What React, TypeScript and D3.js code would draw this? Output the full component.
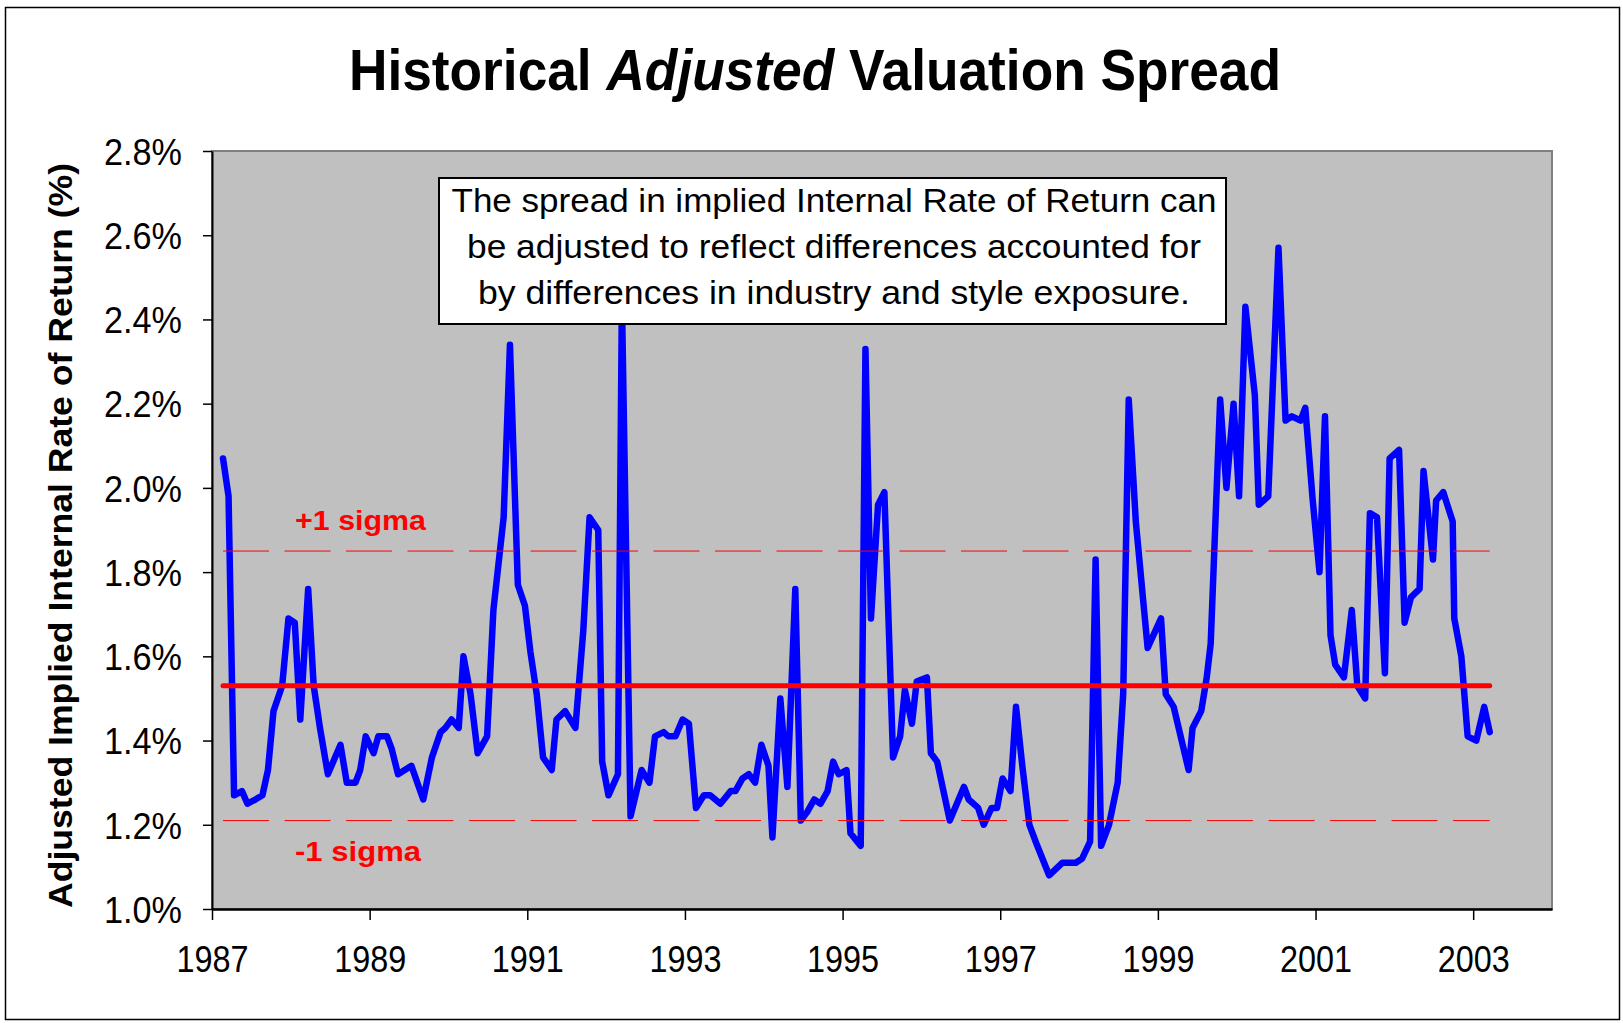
import React, { useEffect, useRef } from 'react';
import * as d3 from 'd3';

// monthly observations (decimal year) and adjusted IRR spread (%)
const years = [
  1987.14, 1987.21, 1987.28, 1987.38, 1987.45, 1987.55, 1987.64, 1987.71, 1987.78, 1987.89, 1987.97,
  1988.05, 1988.12, 1988.22, 1988.29, 1988.37, 1988.47, 1988.63, 1988.71, 1988.82, 1988.88, 1988.95,
  1989.05, 1989.11, 1989.22, 1989.28, 1989.36, 1989.53, 1989.68,
  1989.79, 1989.90, 1989.96,
  1990.04, 1990.13, 1990.19, 1990.28, 1990.37, 1990.49, 1990.57, 1990.70, 1990.78, 1990.88, 1990.97,
  1991.04, 1991.12, 1991.20, 1991.31, 1991.37, 1991.48, 1991.61, 1991.71, 1991.79, 1991.90, 1991.95,
  1992.03, 1992.15, 1992.20, 1992.31, 1992.45,
  1992.55, 1992.62, 1992.73, 1992.79, 1992.88, 1992.97,
  1993.05, 1993.14, 1993.24, 1993.32, 1993.45, 1993.58, 1993.64, 1993.73, 1993.81, 1993.89, 1993.97,
  1994.06, 1994.11, 1994.21, 1994.30, 1994.40, 1994.47, 1994.55, 1994.64, 1994.72, 1994.81, 1994.88, 1994.95,
  1995.05, 1995.10,
  1995.23, 1995.29, 1995.36, 1995.45, 1995.53, 1995.64, 1995.73, 1995.79, 1995.88, 1995.94,
  1996.07, 1996.12, 1996.20, 1996.36, 1996.54, 1996.60, 1996.72, 1996.79, 1996.89, 1996.96,
  1997.03, 1997.13, 1997.20, 1997.28, 1997.37, 1997.47, 1997.62, 1997.79, 1997.96,
  1998.04, 1998.14, 1998.21, 1998.28, 1998.38, 1998.49, 1998.56, 1998.63, 1998.72, 1998.83, 1998.87,
  1999.04, 1999.10, 1999.20, 1999.39, 1999.44, 1999.55, 1999.62, 1999.67, 1999.79, 1999.87, 1999.96,
  2000.03, 2000.11, 2000.23, 2000.28, 2000.40, 2000.53, 2000.62, 2000.70, 2000.81, 2000.87, 2000.96,
  2001.05, 2001.12, 2001.19, 2001.25, 2001.36, 2001.46, 2001.53, 2001.63, 2001.69, 2001.78, 2001.88, 2001.94,
  2002.06, 2002.13, 2002.21, 2002.32, 2002.37, 2002.49, 2002.53, 2002.62, 2002.74, 2002.76, 2002.85, 2002.93,
  2003.04, 2003.14, 2003.21,
];

const spread = [
  2.07, 1.98, 1.27, 1.28, 1.25, 1.26, 1.27, 1.33, 1.47, 1.53, 1.69,
  1.68, 1.45, 1.76, 1.53, 1.43, 1.32, 1.39, 1.30, 1.30, 1.33, 1.41,
  1.37, 1.41, 1.41, 1.38, 1.32, 1.34, 1.26,
  1.36, 1.42, 1.43,
  1.45, 1.43, 1.60, 1.51, 1.37, 1.41, 1.71, 1.93, 2.34, 1.77, 1.72,
  1.61, 1.51, 1.36, 1.33, 1.45, 1.47, 1.43, 1.66, 1.93, 1.90, 1.35,
  1.27, 1.32, 2.45, 1.22, 1.33,
  1.30, 1.41, 1.42, 1.41, 1.41, 1.45,
  1.44, 1.24, 1.27, 1.27, 1.25, 1.28, 1.28, 1.31, 1.32, 1.30, 1.39,
  1.34, 1.17, 1.50, 1.29, 1.76, 1.21, 1.23, 1.26, 1.25, 1.28, 1.35, 1.32,
  1.33, 1.18,
  1.15, 2.33, 1.69, 1.96, 1.99, 1.36, 1.41, 1.52, 1.44, 1.54,
  1.55, 1.37, 1.35, 1.21, 1.29, 1.26, 1.24, 1.20, 1.24, 1.24,
  1.31, 1.28, 1.48, 1.34, 1.20, 1.15, 1.08, 1.11, 1.11,
  1.12, 1.16, 1.83, 1.15, 1.20, 1.30, 1.51, 2.21, 1.92, 1.70, 1.62,
  1.69, 1.51, 1.48, 1.33, 1.43, 1.47, 1.55, 1.63, 2.21, 2.00, 2.20,
  1.98, 2.43, 2.22, 1.96, 1.98, 2.57, 2.16, 2.17, 2.16, 2.19, 1.98,
  1.80, 2.17, 1.65, 1.58, 1.55, 1.71, 1.53, 1.50, 1.94, 1.93, 1.56, 2.07,
  2.09, 1.68, 1.74, 1.76, 2.04, 1.83, 1.97, 1.99, 1.92, 1.69, 1.60, 1.41,
  1.40, 1.48, 1.42,
];

const meanLevel = 1.53;
const sigmaLevels = [1.85, 1.21];
const sigmaLabels = ['+1 sigma', '-1 sigma'];

const yTicks = [1.0, 1.2, 1.4, 1.6, 1.8, 2.0, 2.2, 2.4, 2.6, 2.8];
const xTicks = [1987, 1989, 1991, 1993, 1995, 1997, 1999, 2001, 2003];

const noteLines = [
  'The spread in implied Internal Rate of Return can',
  'be adjusted to reflect differences accounted for',
  'by differences in industry and style exposure.',
];

const FONT = "'Liberation Sans', Arial, sans-serif";

export default function App() {
  const svgRef = useRef<SVGSVGElement>(null);

  useEffect(() => {
    if (!svgRef.current) return;
    const svg = d3.select(svgRef.current);
    svg.selectAll('*').remove();

    const W = 1623, H = 1023;
    const plot = { left: 212, right: 1552, top: 151, bottom: 909 };

    const x = d3.scaleLinear().domain([1987, 2004]).range([plot.left, plot.right]);
    const y = d3.scaleLinear().domain([1.0, 2.8]).range([plot.bottom, plot.top]);

    svg.append('rect').attr('width', W).attr('height', H).attr('fill', '#fff');

    // outer chart frame
    svg.append('rect')
      .attr('x', 5.5).attr('y', 7.5)
      .attr('width', 1614).attr('height', 1012)
      .attr('fill', 'none').attr('stroke', '#000').attr('stroke-width', 1.5);

    // title
    const title = svg.append('text')
      .attr('x', 815).attr('y', 90)
      .attr('text-anchor', 'middle')
      .attr('font-family', FONT)
      .attr('font-weight', 'bold')
      .attr('font-size', 57)
      .attr('textLength', 932)
      .attr('lengthAdjust', 'spacingAndGlyphs');
    title.append('tspan').text('Historical ');
    title.append('tspan').attr('font-style', 'italic').text('Adjusted');
    title.append('tspan').text(' Valuation Spread');

    // plot area
    svg.append('rect')
      .attr('x', plot.left).attr('y', plot.top)
      .attr('width', plot.right - plot.left).attr('height', plot.bottom - plot.top)
      .attr('fill', '#c0c0c0').attr('stroke', '#808080').attr('stroke-width', 2);

    // series line
    const line = d3.line<number>()
      .x((_, i) => x(years[i]))
      .y(d => y(d));

    svg.append('path')
      .datum(spread)
      .attr('d', line)
      .attr('fill', 'none')
      .attr('stroke', '#0000ff')
      .attr('stroke-width', 6.5)
      .attr('stroke-linejoin', 'round')
      .attr('stroke-linecap', 'round');

    const x0 = x(years[0]);
    const x1 = x(years[years.length - 1]);

    // +/- 1 sigma bands
    svg.selectAll('.sigma')
      .data(sigmaLevels)
      .enter().append('line')
      .attr('class', 'sigma')
      .attr('x1', x0).attr('x2', x1)
      .attr('y1', d => y(d)).attr('y2', d => y(d))
      .attr('stroke', '#ff0000')
      .attr('stroke-width', 1)
      .attr('stroke-dasharray', '46 15.5');

    // mean
    svg.append('line')
      .attr('x1', x0).attr('x2', x1)
      .attr('y1', y(meanLevel)).attr('y2', y(meanLevel))
      .attr('stroke', '#ff0000')
      .attr('stroke-width', 5)
      .attr('stroke-linecap', 'round');

    svg.selectAll('.sigma-label')
      .data(sigmaLevels)
      .enter().append('text')
      .attr('class', 'sigma-label')
      .attr('x', x0 + 72)
      .attr('y', (d, i) => i === 0 ? y(d) - 21 : y(d) + 40)
      .attr('font-family', FONT)
      .attr('font-weight', 'bold')
      .attr('font-size', 27)
      .attr('fill', '#ff0000')
      .attr('textLength', (_, i) => i === 0 ? 131 : 126)
      .attr('lengthAdjust', 'spacingAndGlyphs')
      .text((_, i) => sigmaLabels[i]);

    // axes
    const yAxis = svg.append('g')
      .attr('transform', `translate(${plot.left},0)`)
      .call(d3.axisLeft(y).tickValues(yTicks).tickSize(9).tickSizeOuter(0)
        .tickFormat(d => (+d).toFixed(1) + '%'));
    yAxis.select('.domain').attr('stroke', '#000').attr('stroke-width', 2);
    yAxis.selectAll('.tick line').attr('stroke', '#000').attr('stroke-width', 1.5);
    yAxis.selectAll('.tick text')
      .attr('x', -30)
      .attr('dy', '0.36em')
      .attr('font-family', FONT)
      .attr('font-size', 37)
      .attr('fill', '#000')
      .attr('textLength', 78)
      .attr('lengthAdjust', 'spacingAndGlyphs');

    const xAxis = svg.append('g')
      .attr('transform', `translate(0,${plot.bottom})`)
      .call(d3.axisBottom(x).tickValues(xTicks).tickSize(11).tickSizeOuter(0)
        .tickFormat(d => String(d)));
    xAxis.select('.domain').attr('stroke', '#000').attr('stroke-width', 2.5);
    xAxis.selectAll('.tick line').attr('stroke', '#000').attr('stroke-width', 1.5);
    xAxis.selectAll('.tick text')
      .attr('y', 63)
      .attr('dy', 0)
      .attr('font-family', FONT)
      .attr('font-size', 37)
      .attr('fill', '#000')
      .attr('textLength', 72)
      .attr('lengthAdjust', 'spacingAndGlyphs');

    // y axis title
    svg.append('text')
      .attr('transform', `translate(72,535.5) rotate(-90)`)
      .attr('text-anchor', 'middle')
      .attr('font-family', FONT)
      .attr('font-weight', 'bold')
      .attr('font-size', 33)
      .attr('textLength', 745)
      .attr('lengthAdjust', 'spacingAndGlyphs')
      .text('Adjusted Implied Internal Rate of Return (%)');

    // annotation box
    svg.append('rect')
      .attr('x', 439).attr('y', 178)
      .attr('width', 787).attr('height', 146)
      .attr('fill', '#fff').attr('stroke', '#000').attr('stroke-width', 2);

    const noteWidths = [765, 734, 712];
    svg.selectAll('.note')
      .data(noteLines)
      .enter().append('text')
      .attr('class', 'note')
      .attr('x', 834)
      .attr('y', (_, i) => 212 + i * 46)
      .attr('text-anchor', 'middle')
      .attr('font-family', FONT)
      .attr('font-size', 34)
      .attr('textLength', (_, i) => noteWidths[i])
      .attr('lengthAdjust', 'spacingAndGlyphs')
      .text(d => d);
  }, []);

  return (
    <div style={{ position: 'fixed', left: 0, top: 0, width: 1623, height: 1023, background: '#fff' }}>
      <svg ref={svgRef} width={1623} height={1023} style={{ display: 'block' }} />
    </div>
  );
}
